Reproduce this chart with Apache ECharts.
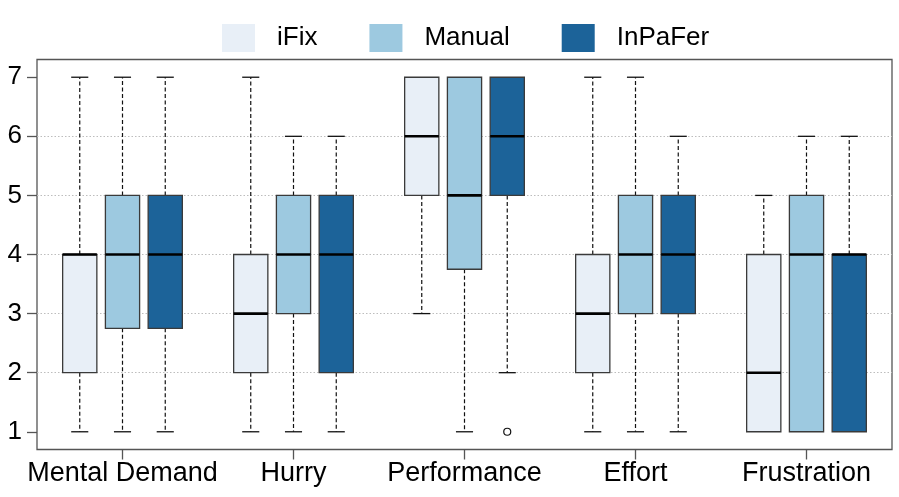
<!DOCTYPE html>
<html>
<head>
<meta charset="utf-8">
<script src="https://cdn.jsdelivr.net/npm/echarts@6/dist/echarts.min.js"></script>
<style>html,body{margin:0;padding:0;background:#fff;}#c{width:899px;height:497px;}</style>
</head>
<body>
<div id="c"></div>
<script>
// categories and series (each box: [min, Q1, median, Q3, max])
const categories = ['Mental Demand', 'Hurry', 'Performance', 'Effort', 'Frustration'];
const seriesNames = ['iFix', 'Manual', 'InPaFer'];
const iFix    = [[1, 2, 4, 4, 7], [1, 2, 3, 4, 7], [3, 5, 6, 7, 7], [1, 2, 3, 4, 7], [1, 1, 2, 4, 5]];
const manual  = [[1, 2.75, 4, 5, 7], [1, 3, 4, 5, 6], [1, 3.75, 5, 7, 7], [1, 3, 4, 5, 7], [1, 1, 4, 5, 6]];
const inPaFer = [[1, 2.75, 4, 5, 7], [1, 2, 4, 5, 6], [2, 5, 6, 7, 7], [1, 3, 4, 5, 6], [1, 1, 4, 4, 6]];
// outliers: [category index, series index, value]
const outliers = [[2, 2, 1]];
const yTicks = [1, 2, 3, 4, 5, 6, 7];
const colors = ['#E8EFF7', '#9DC9E0', '#1C6399'];

const FONT = 'Liberation Sans';
const groups = [iFix, manual, inPaFer];

function boxRenderer(sIdx) {
  return function (params, api) {
    const c = api.value(0);
    const bw = api.size([1, 0])[0];
    const cx = api.coord([c, 0])[0] + (sIdx - 1) * 0.25 * bw;
    const w = 0.2 * bw;
    const capW = 0.1 * bw;
    const y = (v) => api.coord([c, v])[1];
    const yMin = y(api.value(1)), yQ1 = y(api.value(2)), yMed = y(api.value(3)),
          yQ3 = y(api.value(4)), yMax = y(api.value(5));
    const dashStyle = { stroke: '#111', lineWidth: 1.2, lineDash: [4, 2.5] };
    const solid = { stroke: '#111', lineWidth: 1.3 };
    const children = [];
    if (yMax < yQ3 - 0.5) {
      children.push({ type: 'line', shape: { x1: cx, y1: yQ3, x2: cx, y2: yMax }, style: dashStyle });
      children.push({ type: 'line', shape: { x1: cx - capW / 2, y1: yMax, x2: cx + capW / 2, y2: yMax }, style: solid });
    }
    if (yMin > yQ1 + 0.5) {
      children.push({ type: 'line', shape: { x1: cx, y1: yQ1, x2: cx, y2: yMin }, style: dashStyle });
      children.push({ type: 'line', shape: { x1: cx - capW / 2, y1: yMin, x2: cx + capW / 2, y2: yMin }, style: solid });
    }
    children.push({ type: 'rect', shape: { x: cx - w / 2, y: yQ3, width: w, height: yQ1 - yQ3 },
      style: { fill: colors[sIdx], stroke: '#3a3a3a', lineWidth: 1.3 } });
    children.push({ type: 'line', shape: { x1: cx - w / 2, y1: yMed, x2: cx + w / 2, y2: yMed },
      style: { stroke: '#000', lineWidth: 2.6 } });
    return { type: 'group', children: children };
  };
}

function outlierRenderer(params, api) {
  const c = api.value(0);
  const s = api.value(1);
  const bw = api.size([1, 0])[0];
  const p = api.coord([c, api.value(2)]);
  return { type: 'circle', shape: { cx: p[0] + (s - 1) * 0.25 * bw, cy: p[1], r: 3.5 },
    style: { fill: '#fff', stroke: '#111', lineWidth: 1.2 } };
}

const series = groups.map((g, i) => ({
  name: seriesNames[i],
  type: 'custom',
  renderItem: boxRenderer(i),
  itemStyle: { color: colors[i] },
  encode: { x: 0, y: [1, 2, 3, 4, 5] },
  data: g.map((b, ci) => [ci].concat(b)),
  z: 3
}));
series.push({
  name: 'outliers',
  type: 'custom',
  renderItem: outlierRenderer,
  encode: { x: 0, y: 2 },
  data: outliers,
  z: 4
});

const chart = echarts.init(document.getElementById('c'), null, { renderer: 'canvas' });
chart.setOption({
  animation: false,
  backgroundColor: '#fff',
  textStyle: { fontFamily: FONT },
  legend: {
    data: seriesNames,
    left: 217,
    top: 19,
    itemWidth: 33,
    itemHeight: 28,
    itemGap: 52,
    icon: 'rect',
    textStyle: { fontFamily: FONT, fontSize: 26, color: '#000', padding: [0, 0, 0, 17] }
  },
  grid: {
    left: 37, right: 7, top: 59.5, bottom: 47.5,
    show: true, borderColor: '#555', borderWidth: 1.3, backgroundColor: 'transparent'
  },
  xAxis: {
    type: 'category',
    data: categories,
    boundaryGap: true,
    axisLine: { show: false },
    axisTick: { show: true, alignWithLabel: true, length: 10, lineStyle: { color: '#555', width: 1.3 } },
    axisLabel: { fontFamily: FONT, fontSize: 27, color: '#000', margin: 11, interval: 0 },
    splitLine: { show: false }
  },
  yAxis: {
    type: 'value',
    min: 0.7,
    max: 7.3,
    axisLine: { show: false },
    axisTick: { show: true, length: 10, customValues: yTicks, lineStyle: { color: '#555', width: 1.3 } },
    axisLabel: { fontFamily: FONT, fontSize: 26, color: '#000', margin: 15, customValues: yTicks },
    splitLine: { show: true, showMinLine: false, showMaxLine: false, lineStyle: { color: '#bdbdbd', width: 1, type: [1.5, 2] } }
  },
  series: series
});
</script>
</body>
</html>
